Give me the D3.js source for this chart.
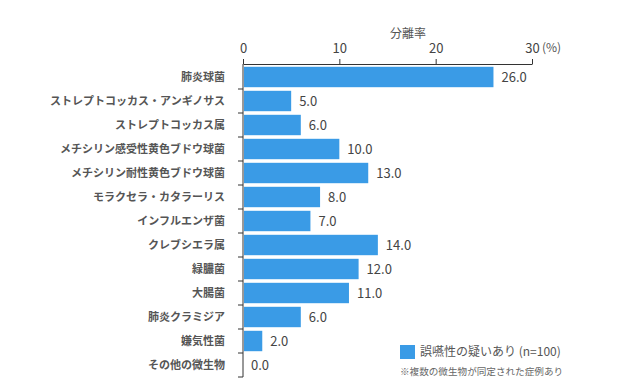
<!DOCTYPE html>
<html>
<head>
<meta charset="utf-8">
<script src="https://cdnjs.cloudflare.com/ajax/libs/d3/7.8.5/d3.min.js"></script>
<style>
  body { margin: 0; background: #fff; }
  svg text { font-family: "Noto Sans CJK JP", "Noto Sans", sans-serif; }
  .axis path, .axis line { stroke: #333; }
</style>
</head>
<body>
<div id="chart"></div>
<script>
var categories = ["肺炎球菌", "ストレプトコッカス・アンギノサス", "ストレプトコッカス属",
  "メチシリン感受性黄色ブドウ球菌", "メチシリン耐性黄色ブドウ球菌", "モラクセラ・カタラーリス",
  "インフルエンザ菌", "クレブシエラ属", "緑膿菌", "大腸菌", "肺炎クラミジア", "嫌気性菌", "その他の微生物"];
var values = [26.0, 5.0, 6.0, 10.0, 13.0, 8.0, 7.0, 14.0, 12.0, 11.0, 6.0, 2.0, 0.0];
var xTicks = [0, 10, 20, 30];
var seriesName = "誤嚥性の疑いあり (n=100)";
var note = "※複数の微生物が同定された症例あり";
var axisTitle = "分離率";

var width = 620, height = 386;
var margin = {top: 64, left: 243, right: 88, bottom: 9};
var barColor = "#3a9be6";

var svg = d3.select("#chart").append("svg")
  .attr("width", width)
  .attr("height", height);

var x = d3.scaleLinear().domain([0, 30]).range([margin.left, width - margin.right]);
var y = d3.scaleBand().domain(categories)
  .range([margin.top + 1, height - margin.bottom])
  .paddingInner(0.15).paddingOuter(0.075);

// top axis
var xAxis = svg.append("g")
  .attr("class", "axis")
  .attr("transform", "translate(0," + margin.top + ")")
  .call(d3.axisTop(x).tickValues(xTicks).tickSize(5).tickSizeOuter(0));
xAxis.selectAll("text").attr("font-size", 13).attr("fill", "#444").attr("dy", "-0.2em");
xAxis.select(".domain").attr("stroke", "#333");

svg.append("text")
  .attr("x", x(30) + 10)
  .attr("y", margin.top - 10)
  .attr("dy", "-0.2em")
  .attr("font-size", 12)
  .attr("fill", "#555")
  .text("(%)");

svg.append("text")
  .attr("x", 408)
  .attr("y", 38)
  .attr("text-anchor", "middle")
  .attr("font-size", 12)
  .attr("fill", "#555")
  .text(axisTitle);

// left axis with ticks at band boundaries
var yAxis = svg.append("g").attr("class", "axis");
yAxis.append("line")
  .attr("x1", x(0)).attr("x2", x(0))
  .attr("y1", margin.top).attr("y2", y.range()[1])
  .attr("stroke", "#333");
var bounds = categories.map(function(c) { return y(c) - y.step() * y.paddingInner() / 2; });
bounds.push(y.range()[1]);
yAxis.selectAll(".tk").data(bounds.slice(1)).enter().append("line")
  .attr("x1", x(0) - 5).attr("x2", x(0))
  .attr("y1", function(d) { return d; }).attr("y2", function(d) { return d; })
  .attr("stroke", "#333");

svg.selectAll(".cat").data(categories).enter().append("text")
  .attr("x", x(0) - 18)
  .attr("y", function(d) { return y(d) + y.bandwidth() / 2; })
  .attr("dy", "0.35em")
  .attr("text-anchor", "end")
  .attr("font-size", 11)
  .attr("font-weight", "bold")
  .attr("fill", "#555")
  .text(function(d) { return d; });

// bars
svg.selectAll(".bar").data(values).enter().append("rect")
  .attr("x", x(0) + 1)
  .attr("y", function(d, i) { return y(categories[i]); })
  .attr("width", function(d) { return Math.max(0, x(d) - x(0) - 1); })
  .attr("height", y.bandwidth())
  .attr("fill", barColor);

svg.selectAll(".val").data(values).enter().append("text")
  .attr("x", function(d) { return x(d) + 8; })
  .attr("y", function(d, i) { return y(categories[i]) + y.bandwidth() / 2; })
  .attr("dy", "0.35em")
  .attr("font-size", 13)
  .attr("fill", "#444")
  .text(function(d) { return d.toFixed(1); });

// legend
svg.append("rect")
  .attr("x", 400).attr("y", 345)
  .attr("width", 15).attr("height", 14)
  .attr("fill", barColor);
svg.append("text")
  .attr("x", 420).attr("y", 352)
  .attr("dy", "0.35em")
  .attr("font-size", 12)
  .attr("fill", "#555")
  .text(seriesName);
svg.append("text")
  .attr("x", 400).attr("y", 372)
  .attr("dy", "0.35em")
  .attr("font-size", 9.6)
  .attr("fill", "#666")
  .text(note);
</script>
</body>
</html>
